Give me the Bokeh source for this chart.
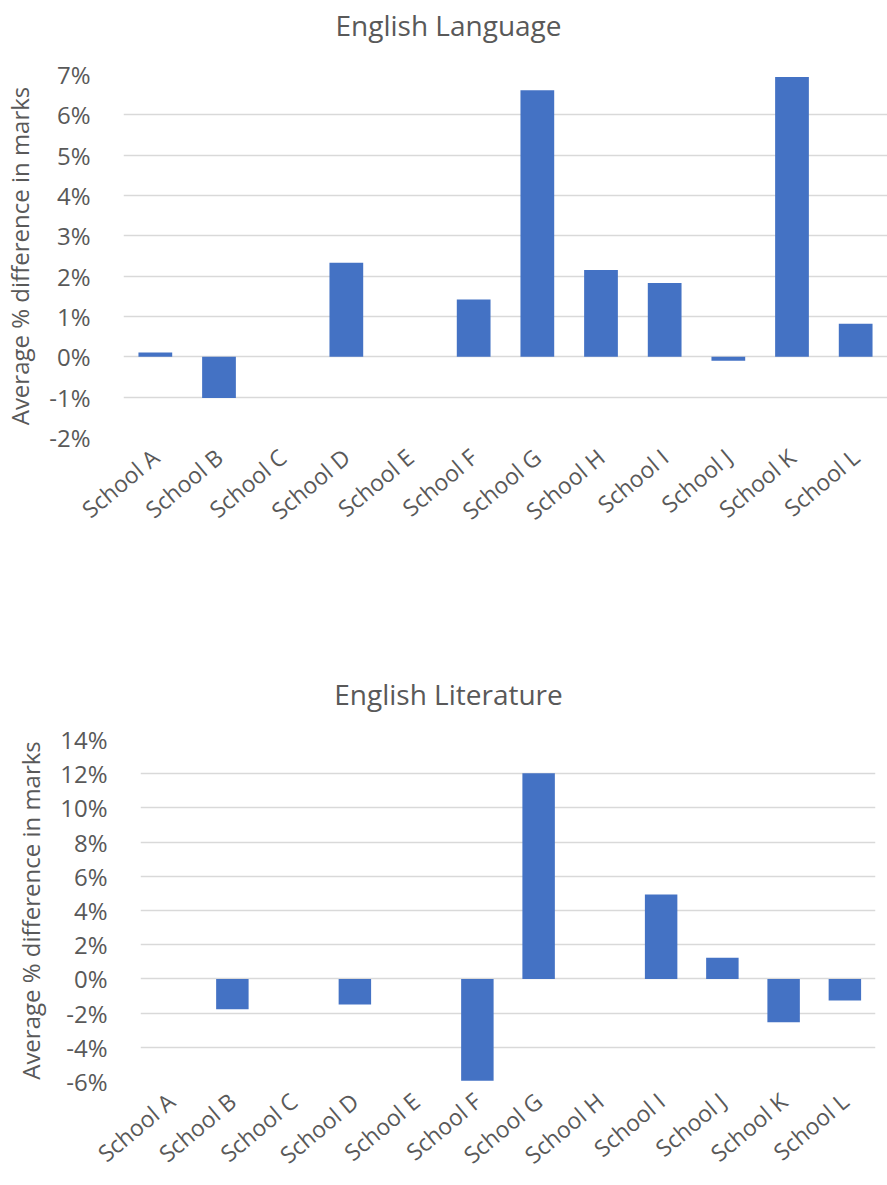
import math
from bokeh.plotting import figure
from bokeh.models import FixedTicker, NumeralTickFormatter, Range1d, Title
from bokeh.embed import file_html
from bokeh.resources import INLINE

schools = ["School A", "School B", "School C", "School D", "School E", "School F",
           "School G", "School H", "School I", "School J", "School K", "School L"]
language = [0.0011, -0.0102, 0.0, 0.0233, 0.0, 0.0142, 0.0661, 0.0215, 0.0183, -0.0010, 0.0694, 0.0082]
literature = [0.0, -0.0178, 0.0, -0.0149, 0.0, -0.0595, 0.1203, 0.0, 0.0494, 0.0124, -0.0254, -0.0126]
lang_ticks = [-0.02, -0.01, 0.0, 0.01, 0.02, 0.03, 0.04, 0.05, 0.06, 0.07]
lit_ticks = [-0.06, -0.04, -0.02, 0.0, 0.02, 0.04, 0.06, 0.08, 0.10, 0.12, 0.14]
titles = ["English Language", "English Literature"]

FONT = "Open Sans"
GREY = "#595959"
BAR = "#4472C4"


def title_fig(text, height):
    t = figure(width=887, height=height, output_backend="svg", toolbar_location=None,
               x_axis_location=None, y_axis_location=None,
               min_border_left=9, min_border_right=0, min_border_top=0, min_border_bottom=0)
    t.outline_line_color = None
    t.border_fill_color = "white"
    t.background_fill_color = "white"
    t.add_layout(Title(text=text, align="center", text_font=FONT, text_font_size="28px",
                       text_font_style="normal", text_color=GREY, standoff=6), "above")
    return t


def make(values, ticks, height, mb_left, mb_right, mb_top, mb_bottom, label_standoff):
    p = figure(x_range=schools, y_range=Range1d(ticks[0], ticks[-1]),
               width=887, height=height, output_backend="svg",
               toolbar_location=None, min_border_left=mb_left, min_border_right=mb_right,
               min_border_top=mb_top, min_border_bottom=mb_bottom)
    p.vbar(x=schools, top=values, width=0.53, fill_color=BAR, line_color=None)
    p.outline_line_color = None
    p.background_fill_color = "white"
    p.border_fill_color = "white"
    p.xgrid.grid_line_color = None
    p.ygrid.grid_line_color = "#d9d9d9"
    p.ygrid.grid_line_width = 1.5
    p.yaxis.ticker = FixedTicker(ticks=ticks)
    p.yaxis.formatter = NumeralTickFormatter(format="0%")
    for ax in (p.xaxis, p.yaxis):
        ax.axis_line_color = None
        ax.major_tick_line_color = None
        ax.minor_tick_line_color = None
        ax.major_label_text_font = FONT
        ax.major_label_text_color = GREY
    p.yaxis.major_label_text_font_size = "24px"
    p.xaxis.major_label_text_font_size = "23px"
    p.yaxis.major_label_standoff = 27
    p.xaxis.major_label_standoff = 10
    p.xaxis.major_label_orientation = math.radians(40)
    p.yaxis.axis_label = "Average % difference in marks"
    p.yaxis.axis_label_text_font = FONT
    p.yaxis.axis_label_text_font_size = "24px"
    p.yaxis.axis_label_text_font_style = "normal"
    p.yaxis.axis_label_text_color = GREY
    p.yaxis.axis_label_standoff = label_standoff
    return p


t1 = title_fig(titles[0], 44)
p1 = make(language, lang_ticks, 625, 118, 0, 30, 232, 10)
t2 = title_fig(titles[1], 44)
p2 = make(literature, lit_ticks, 472, 140, 12, 26, 101, 10)

open("out.html", "w").write(file_html([t1, p1, t2, p2], INLINE))
